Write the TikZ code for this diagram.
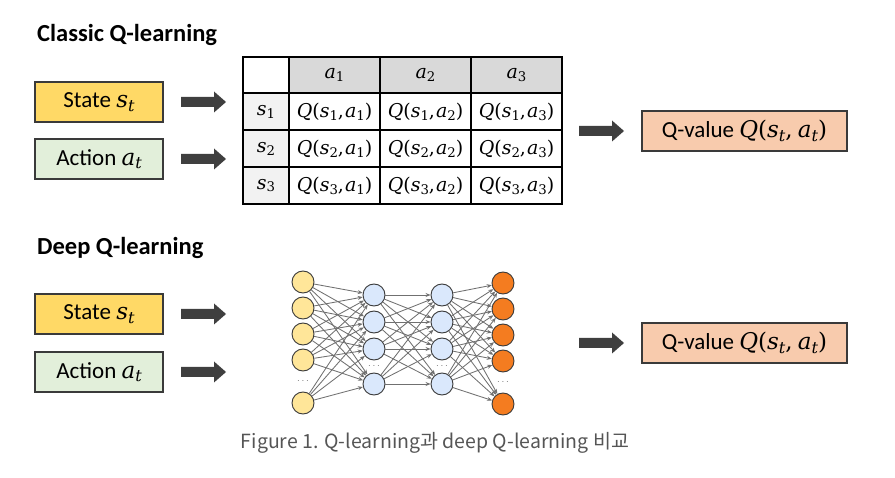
\documentclass[tikz,border=0pt]{standalone}
\usepackage{fontspec}
\setmainfont{Carlito}
\newfontfamily\krfont{Noto Sans CJK KR}
\newfontfamily\cmb{DejaVu Serif}
\usetikzlibrary{arrows.meta}
\definecolor{stateY}{HTML}{FFD966}
\definecolor{actG}{HTML}{E2EFDA}
\definecolor{qvO}{HTML}{F8CBAD}
\definecolor{bord}{HTML}{3A3A3A}
\definecolor{arrG}{HTML}{3F3F3F}
\definecolor{hdrG}{HTML}{D9D9D9}
\definecolor{rowG}{HTML}{F2F2F2}
\definecolor{inY}{HTML}{FFE699}
\definecolor{hidB}{HTML}{DAE8FC}
\definecolor{outO}{HTML}{F47C20}
\definecolor{capG}{HTML}{555555}
\definecolor{edgeG}{HTML}{707070}
% math-like variables set in a wide serif italic
\newcommand\V[2]{{\cmb\itshape #1}\raisebox{-0.32ex}{\scalebox{0.7}{\cmb #2}}}
\newcommand\QQ[3]{{\cmb\itshape Q}{\cmb(}#1{\cmb,}#3#2{\cmb)}}
\begin{document}
\begin{tikzpicture}[x=1pt,y=-1pt,
  box/.style={draw=bord,line width=1.2pt,minimum width=128pt,minimum height=40pt,inner sep=0pt,font=\fontsize{23}{25}\selectfont},
  qbox/.style={box,fill=qvO,minimum width=205pt},
  title/.style={anchor=west,inner sep=0pt,font=\fontsize{24.5}{26}\selectfont\bfseries},
  cell/.style={draw=black,line width=1.1pt,minimum height=37pt,inner sep=0pt,font=\fontsize{19}{21}\selectfont},
  wide/.style={minimum width=91pt},
  narrow/.style={minimum width=46pt},
  neuron/.style={circle,draw=bord,line width=0.9pt,minimum size=22pt,inner sep=0pt},
  edge/.style={draw=edgeG,line width=0.85pt,-{Stealth[length=5pt,width=4pt]}},
  vdots/.style={text=edgeG,font=\normalsize,inner sep=0pt},
  blockarr/.pic={\fill[arrG] (0,-5) -- (33,-5) -- (33,-10.5) -- (45,0) -- (33,10.5) -- (33,5) -- (0,5) -- cycle;}
]
\useasboundingbox (0,0) rectangle (895,478);

% ---------- Classic ----------
\node[title] (t1) at (37,35) {Classic Q-learning};
\node[box,fill=stateY] (cs) at (99,102) {State \V{s}{\itshape t}};
\node[box,fill=actG] (ca) at (99,159) {Action \V{a}{\itshape t}};
\pic (ar1) at (181,102) {blockarr};
\pic (ar2) at (181,159) {blockarr};

% table
\node[cell,narrow,minimum height=36pt] (c00) at (266,75) {};
\node[cell,wide,fill=hdrG,minimum height=36pt] (c01) at (334.5,75) {\V{a}{1}};
\node[cell,wide,fill=hdrG,minimum height=36pt] (c02) at (425.5,75) {\V{a}{2}};
\node[cell,wide,fill=hdrG,minimum height=36pt] (c03) at (516.5,75) {\V{a}{3}};
\foreach \r/\y in {1/111.5,2/148.5,3/185.5}{
  \node[cell,narrow,fill=rowG] (c\r0) at (266,\y) {\V{s}{\r}};
  \foreach \c/\x in {1/334.5,2/425.5,3/516.5}{
    \node[cell,wide] (c\r\c) at (\x,\y) {\QQ{\V{s}{\r}}{\V{a}{\c}}{\kern1pt}};
  }
}
\pic (ar3) at (579,131) {blockarr};
\node[qbox] (cq) at (744.5,131) {Q-value \QQ{\V{s}{\itshape t}}{\V{a}{\itshape t}}{\ }};

% ---------- Deep ----------
\node[title] (t2) at (37,248) {Deep Q-learning};
\node[box,fill=stateY] (ds) at (99,314) {State \V{s}{\itshape t}};
\node[box,fill=actG] (da) at (99,372) {Action \V{a}{\itshape t}};
\pic (ar4) at (181,314) {blockarr};
\pic (ar5) at (181,372) {blockarr};
\pic (ar6) at (579,343) {blockarr};
\node[qbox] (dq) at (744.5,343) {Q-value \QQ{\V{s}{\itshape t}}{\V{a}{\itshape t}}{\ }};

% network
\foreach \i/\y in {1/282,2/308,3/334,4/360,5/403}{
  \node[neuron,fill=inY] (i\i) at (303,\y) {};
  \node[neuron,fill=outO] (o\i) at (503,\y+1) {};
}
\foreach \i/\y in {1/295,2/322,3/349,4/384}{
  \node[neuron,fill=hidB] (h\i) at (374,\y) {};
  \node[neuron,fill=hidB] (g\i) at (442,\y) {};
}
\node[vdots] (di) at (303,381) {$\cdots$};
\node[vdots] (dh) at (374,366) {$\cdots$};
\node[vdots] (dg) at (442,366) {$\cdots$};
\node[vdots] (do) at (503,382) {$\cdots$};
\foreach \a in {1,...,5}{\foreach \b in {1,...,4}{\draw[edge] (i\a) -- (h\b);}}
\foreach \a in {1,...,4}{\foreach \b in {1,...,4}{\draw[edge] (h\a) -- (g\b);}}
\foreach \a in {1,...,4}{\foreach \b in {1,...,5}{\draw[edge] (g\a) -- (o\b);}}

\node[text=capG,font=\krfont\fontsize{19.5}{22}\selectfont] (cap) at (435,443) {Figure 1. Q-learning과 deep Q-learning 비교};
\end{tikzpicture}
\end{document}
